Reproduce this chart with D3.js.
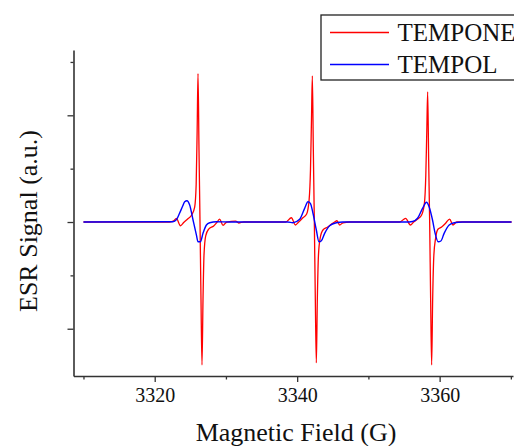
<!DOCTYPE html>
<html>
<head>
<meta charset="utf-8">
<script src="https://cdn.jsdelivr.net/npm/d3@7"></script>
<style>
  body { margin: 0; background: #fff; }
  text { font-family: "Liberation Serif", "Times New Roman", serif; fill: #111; }
</style>
</head>
<body>
<div id="graph"></div>
<script>
// TEMPONE spectrum (field in G, signal in a.u.)
var temponeField = [3310.0, 3322.1, 3322.67, 3323.04, 3323.61, 3324.07, 3324.63, 3325.19, 3325.61, 3325.82,
    3325.96, 3326.08, 3326.22, 3326.36, 3326.50, 3326.64, 3326.78, 3326.92, 3327.16, 3327.58,
    3328.28, 3328.77, 3329.12, 3329.59, 3330.11, 3331.37, 3331.79, 3332.49,
    3338.39, 3339.19, 3339.75, 3340.21, 3340.77, 3341.33, 3341.68, 3341.87, 3342.01, 3342.13,
    3342.27, 3342.41, 3342.55, 3342.69, 3342.83, 3342.99, 3343.23, 3343.62, 3344.28, 3344.84,
    3345.26, 3345.59, 3345.96, 3346.43, 3347.37,
    3354.39, 3355.23, 3355.89, 3356.35, 3356.91, 3357.47, 3357.87, 3358.06, 3358.20, 3358.32,
    3358.46, 3358.60, 3358.74, 3358.88, 3359.02, 3359.19, 3359.44, 3359.76, 3360.28, 3360.84,
    3361.40, 3361.87, 3362.39, 3370.1];
var temponeSignal = [0, 0, 0.01, 0.035, -0.035, -0.005, 0.028, 0.066, 0.14, 0.35,
    0.86, 1.39, 0.67, 0, -0.73, -1.34, -0.73, -0.31, -0.13, -0.066,
    -0.037, 0, 0.028, -0.031, 0, 0.009, -0.009, 0,
    0, 0.04, -0.028, 0, 0.037, 0.075, 0.21, 0.49, 0.96, 1.37,
    0.67, 0, -0.73, -1.32, -0.73, -0.31, -0.15, -0.075, -0.047, -0.019,
    0, 0.012, -0.028, -0.007, 0,
    0, 0.035, -0.028, 0, 0.028, 0.066, 0.18, 0.44, 0.86, 1.22,
    0.58, 0, -0.73, -1.34, -0.73, -0.31, -0.15, -0.068, -0.047, -0.012,
    0.028, -0.028, 0, 0];

// TEMPOL spectrum
var tempolField = [3310.0, 3322.55, 3323.07, 3323.49, 3323.93, 3324.21, 3324.53, 3324.91, 3325.38, 3325.85,
    3326.08, 3326.41, 3326.78, 3327.26, 3327.72, 3328.67, 3330.53,
    3338.67, 3339.41, 3340.35, 3341.05, 3341.52, 3341.85, 3342.22, 3342.69, 3343.06,
    3343.4, 3343.86, 3344.56, 3345.5, 3346.43,
    3355.25, 3356.2, 3356.9, 3357.6, 3358.16, 3358.52, 3359.0, 3359.37, 3359.79,
    3360.17, 3360.63, 3361.34, 3362.04, 3363.22, 3370.1];
var tempolSignal = [0, 0.003, 0.023, 0.082, 0.15, 0.19, 0.2, 0.16, 0.019, -0.12,
    -0.185, -0.185, -0.106, -0.028, -0.007, 0.003, 0,
    0, -0.007, 0.025, 0.128, 0.19, 0.175, 0.082, -0.075, -0.185,
    -0.175, -0.106, -0.035, -0.007, 0,
    0, 0.005, 0.035, 0.128, 0.185, 0.143, 0.019, -0.106, -0.185,
    -0.178, -0.106, -0.028, -0.007, 0, 0];

var xMajor = [3320, 3340, 3360];
var xMinor = [3310, 3330, 3350, 3370];
var yMajor = [-1, 0, 1];
var yMinor = [-0.5, 0.5, 1.5];
var seriesNames = ["TEMPONE", "TEMPOL"];
var seriesColors = ["#ff0000", "#0000ff"];

window.onload = start;

function start() {
    var width = 514, height = 446;
    var svg = d3.select('#graph').append('svg')
        .attr('width', width)
        .attr('height', height);

    var x = d3.scaleLinear().domain([3308.6, 3370.3]).range([73.5, 513]);
    var y = d3.scaleLinear().domain([-1.443, 1.612]).range([376, 50]);

    var line = d3.line()
        .x(function(d) { return x(d[0]); })
        .y(function(d) { return y(d[1]); })
        .curve(d3.curveMonotoneX);

    var tempone = d3.zip(temponeField, temponeSignal);
    var tempol = d3.zip(tempolField, tempolSignal);

    svg.append('path').datum(tempone)
        .attr('d', line).attr('fill', 'none')
        .attr('stroke', seriesColors[0]).attr('stroke-width', 1.3);
    svg.append('path').datum(tempol)
        .attr('d', line).attr('fill', 'none')
        .attr('stroke', seriesColors[1]).attr('stroke-width', 1.4);

    // axes
    var gx = svg.append('g').attr('transform', 'translate(0,376)');
    gx.call(d3.axisBottom(x).tickValues(xMajor).tickFormat(d3.format('d'))
        .tickSize(6).tickSizeOuter(0).tickPadding(6));
    gx.append('g').call(d3.axisBottom(x).tickValues(xMinor).tickSize(3.5).tickSizeOuter(0).tickFormat(''))
        .select('.domain').remove();
    gx.selectAll('text')
        .style('font-family', '"Liberation Serif", "Times New Roman", serif')
        .style('font-size', '20px')
        .attr('fill', '#111');

    var gy = svg.append('g').attr('transform', 'translate(73.5,0)');
    gy.call(d3.axisLeft(y).tickValues(yMajor).tickSize(6).tickSizeOuter(0).tickFormat(''));
    gy.append('g').call(d3.axisLeft(y).tickValues(yMinor).tickSize(3).tickSizeOuter(0).tickFormat(''))
        .select('.domain').remove();

    svg.selectAll('.domain').attr('stroke', '#333').attr('stroke-width', 1.6);
    svg.selectAll('.tick line').attr('stroke', '#333').attr('stroke-width', 1.3);

    // axis titles
    svg.append('text')
        .attr('x', 296).attr('y', 441)
        .attr('text-anchor', 'middle')
        .attr('font-size', 26)
        .text('Magnetic Field (G)');
    svg.append('text')
        .attr('transform', 'translate(37,221) rotate(-90)')
        .attr('text-anchor', 'middle')
        .attr('font-size', 26)
        .text('ESR Signal (a.u.)');

    // legend
    var legend = svg.append('g');
    legend.append('rect')
        .attr('x', 321).attr('y', 15).attr('width', 220).attr('height', 65)
        .attr('fill', '#fff').attr('stroke', '#222').attr('stroke-width', 1.3);
    seriesNames.forEach(function(name, i) {
        var ly = 32.5 + i * 32;
        legend.append('line')
            .attr('x1', 330).attr('x2', 389).attr('y1', ly).attr('y2', ly)
            .attr('stroke', seriesColors[i]).attr('stroke-width', 1.3);
        legend.append('text')
            .attr('x', 397.5).attr('y', ly + 8.5)
            .attr('font-size', 25)
            .text(name);
    });
}
</script>
</body>
</html>
